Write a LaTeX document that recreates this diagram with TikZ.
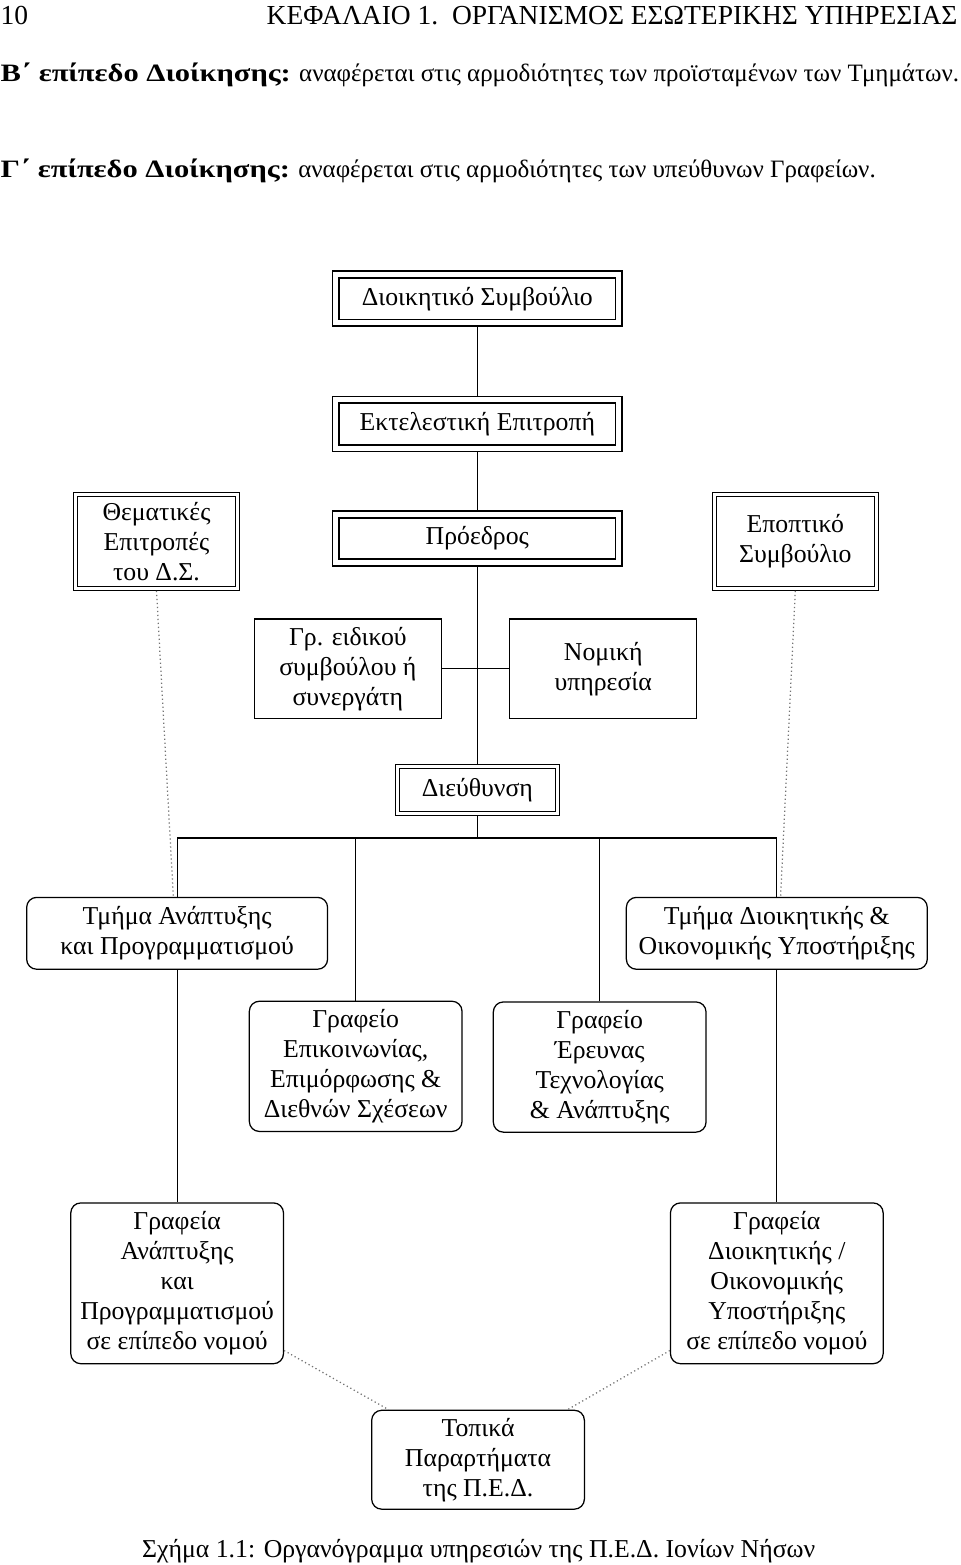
\documentclass[tikz,border=0pt]{standalone}
\usepackage{fontspec}
\setmainfont{Liberation Serif}[BoldFeatures={FakeStretch=1.22}]

\begin{document}
\begin{tikzpicture}[line width=0.5pt,
                    every node/.style={font=\fontsize{10.3}{12}\selectfont, align=center, inner sep=2pt},
                    pagetext/.style={anchor=base west, inner sep=0pt},
                    heavybox/.style={draw, double, line width=0.7pt, double distance=2pt, outer sep=1.7pt,
                                     minimum width=3.98cm, minimum height=0.68cm},
                    twinbox/.style={draw, double, line width=0.4pt, double distance=1.2pt, outer sep=1pt},
                    sidebox/.style={twinbox, minimum width=2.28cm, minimum height=1.32cm},
                    plainbox/.style={draw, minimum width=2.63cm, minimum height=1.40cm},
                    roundbox/.style={draw, rounded corners=4pt, minimum width=2.99cm},
                    deptbox/.style={roundbox, minimum width=4.23cm, minimum height=1.01cm},
                    hint/.style={black!55, dash pattern=on 0.5pt off 1.1pt}]

\useasboundingbox (0,0) rectangle (13.5,-22.0);

\node[pagetext, font=\fontsize{11}{12}\selectfont] (pg) at(0,-0.34) {10};
\node[pagetext, anchor=base east, font=\fontsize{11}{12}\selectfont] (hd) at(13.47,-0.34)
  {ΚΕΦΑΛΑΙΟ 1.\ \ ΟΡΓΑΝΙΣΜΟΣ ΕΣΩΤΕΡΙΚΗΣ ΥΠΗΡΕΣΙΑΣ};
\node[pagetext, font=\fontsize{10}{12}\selectfont] (lvb) at(0,-1.15)
  {\textbf{Β΄ επίπεδο Διοίκησης:} αναφέρεται στις αρμοδιότητες των προϊσταμένων των Τμημάτων.};
\node[pagetext, font=\fontsize{10}{12}\selectfont] (lvg) at(0,-2.50)
  {\textbf{Γ΄ επίπεδο Διοίκησης:} αναφέρεται στις αρμοδιότητες των υπεύθυνων Γραφείων.};

\node[heavybox] (ds) at(6.71,-4.20) {Διοικητικό Συμβούλιο};
\node[heavybox] (ee) at(6.71,-5.96) {Εκτελεστική Επιτροπή};
\node[heavybox] (pr) at(6.71,-7.57) {Πρόεδρος};
\node[sidebox] (thep) at(2.20,-7.61) {Θεματικές\\Επιτροπές\\του Δ.Σ.};
\node[sidebox] (es) at(11.18,-7.61) {Εποπτικό\\Συμβούλιο};

\node[plainbox] (gr) at(4.89,-9.40) {Γρ. ειδικού\\συμβούλου ή\\συνεργάτη};
\node[plainbox] (nom) at(8.48,-9.40) {Νομική\\υπηρεσία};
\node[twinbox, minimum width=2.25cm, minimum height=0.66cm] (dieu) at(6.71,-11.11) {Διεύθυνση};
\coordinate (bus) at(6.71,-11.78);

\node[deptbox] (tap) at(2.49,-13.12) {Τμήμα Ανάπτυξης\\και Προγραμματισμού};
\node[deptbox] (tdo) at(10.92,-13.12) {Τμήμα Διοικητικής \&\\Οικονομικής Υποστήριξης};
\node[roundbox, minimum height=1.83cm] (gepi) at(5.00,-14.99) {Γραφείο\\Επικοινωνίας,\\Επιμόρφωσης \&\\Διεθνών Σχέσεων};
\node[roundbox, minimum height=1.83cm] (gere) at(8.43,-15.00) {Γραφείο\\Έρευνας\\Τεχνολογίας\\\& Ανάπτυξης};
\node[roundbox, minimum height=2.26cm] (gan) at(2.49,-18.04) {Γραφεία\\Ανάπτυξης\\και\\Προγραμματισμού\\σε επίπεδο νομού};
\node[roundbox, minimum height=2.26cm] (gdo) at(10.92,-18.04) {Γραφεία\\Διοικητικής /\\Οικονομικής\\Υποστήριξης\\σε επίπεδο νομού};
\node[roundbox, minimum height=1.39cm] (top) at(6.72,-20.52) {Τοπικά\\Παραρτήματα\\της Π.Ε.Δ.};

\node[anchor=base, inner sep=0pt] (cap) at(6.73,-21.89) {Σχήμα 1.1: Οργανόγραμμα υπηρεσιών της Π.Ε.Δ. Ιονίων Νήσων};

\draw
(ds) edge (ee)
(ee) edge (pr)
(pr) edge (dieu)
(gr) edge (nom)
(dieu.south) edge (bus)
(tap) edge (gan)
(tdo) edge (gdo)
(tap.north) -- (tap.north |- bus) -- (tdo.north |- bus) -- (tdo.north)
(gepi.north) -- (gepi.north |- bus)
(gere.north) -- (gere.north |- bus)
;

\draw[hint]
(thep.south) -- ([xshift=-1.5pt]tap.north)
(es.south) -- ([xshift=1.5pt]tdo.north)
([yshift=5.5pt]gan.south east) -- ([xshift=7pt]top.north west)
([yshift=5.5pt]gdo.south west) -- ([xshift=-7pt]top.north east)
;\end{tikzpicture}
\end{document}
